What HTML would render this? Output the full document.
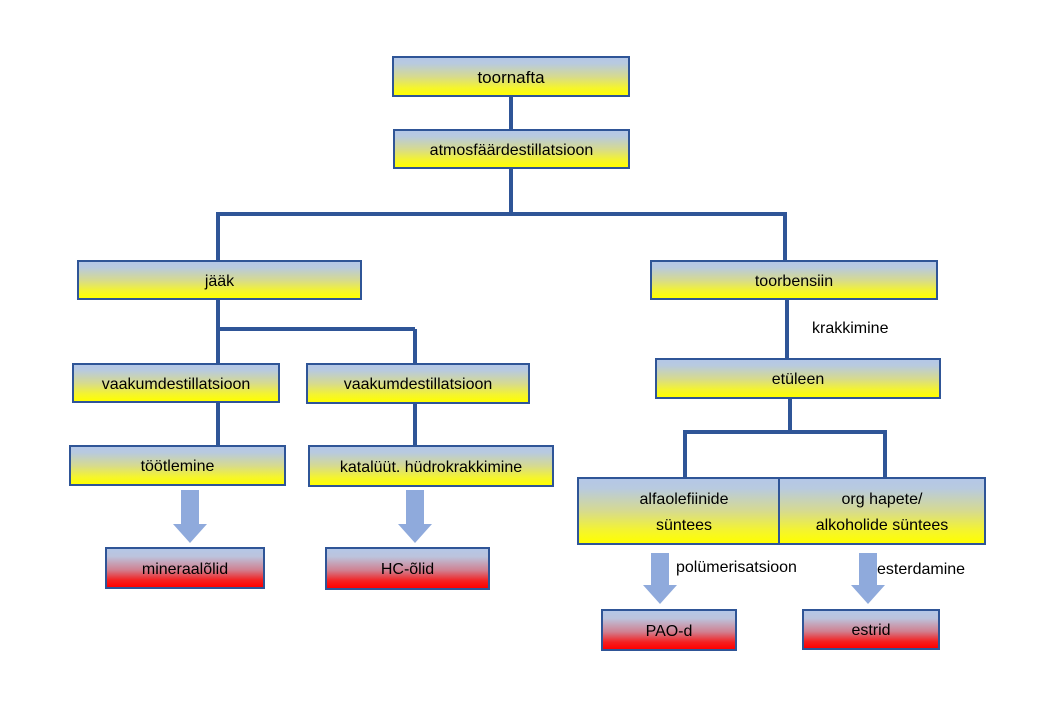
<!DOCTYPE html>
<html><head><meta charset="utf-8"><style>
body{margin:0;width:1057px;height:721px;background:#fff;position:relative;overflow:hidden;font-family:"Liberation Sans",sans-serif;}
.b{position:absolute;box-sizing:border-box;border:2px solid #2f5597;display:flex;align-items:center;justify-content:center;text-align:center;font-size:16px;color:#000;line-height:26px;padding-top:3px;
background:linear-gradient(to bottom,#b4c7e7 0%,#b8cadf 15%,#d6da90 50%,#f4f430 80%,#ffff00 100%);}
.r{background:linear-gradient(to bottom,#b4c7e7 0%,#bcc3dc 20%,#d08090 55%,#f42020 82%,#ff0000 100%);}
.t{position:absolute;font-size:16px;color:#000;}
</style></head><body>
<svg width="1057" height="721" style="position:absolute;left:0;top:0">
<g stroke="#2f5597" stroke-width="4" fill="none">
<line x1="511" y1="97" x2="511" y2="129"/>
<line x1="511" y1="169" x2="511" y2="214"/>
<line x1="216" y1="214" x2="787" y2="214"/>
<line x1="218" y1="214" x2="218" y2="260"/>
<line x1="785" y1="214" x2="785" y2="260"/>
<line x1="218" y1="300" x2="218" y2="445"/>
<line x1="218" y1="329" x2="415" y2="329"/>
<line x1="415" y1="329" x2="415" y2="363"/>
<line x1="415" y1="404" x2="415" y2="445"/>
<line x1="787" y1="300" x2="787" y2="358"/>
<line x1="790" y1="399" x2="790" y2="432"/>
<line x1="683" y1="432" x2="887" y2="432"/>
<line x1="685" y1="432" x2="685" y2="477"/>
<line x1="885" y1="432" x2="885" y2="477"/>
</g>
<g fill="#8faadc">
<polygon points="181,490 199,490 199,524 207,524 190,543 173,524 181,524"/>
<polygon points="406,490 424,490 424,524 432,524 415,543 398,524 406,524"/>
<polygon points="651,553 669,553 669,585 677,585 660,604 643,585 651,585"/>
<polygon points="859,553 877,553 877,585 885,585 868,604 851,585 859,585"/>
</g>
</svg>
<div class="b" style="left:392px;top:56px;width:238px;height:41px;font-size:17px">toornafta</div>
<div class="b" style="left:393px;top:129px;width:237px;height:40px">atmosfäärdestillatsioon</div>
<div class="b" style="left:77px;top:260px;width:285px;height:40px">jääk</div>
<div class="b" style="left:650px;top:260px;width:288px;height:40px">toorbensiin</div>
<div class="b" style="left:72px;top:363px;width:208px;height:40px">vaakumdestillatsioon</div>
<div class="b" style="left:306px;top:363px;width:224px;height:41px">vaakumdestillatsioon</div>
<div class="b" style="left:69px;top:445px;width:217px;height:41px">töötlemine</div>
<div class="b" style="left:308px;top:445px;width:246px;height:42px">katalüüt. hüdrokrakkimine</div>
<div class="b r" style="left:105px;top:547px;width:160px;height:42px">mineraalõlid</div>
<div class="b r" style="left:325px;top:547px;width:165px;height:43px">HC-õlid</div>
<div class="b" style="left:655px;top:358px;width:286px;height:41px">etüleen</div>
<div class="b" style="left:577px;top:477px;width:214px;height:68px">alfaolefiinide<br>süntees</div>
<div class="b" style="left:778px;top:477px;width:208px;height:68px">org hapete/<br>alkoholide süntees</div>
<div class="b r" style="left:601px;top:609px;width:136px;height:42px">PAO-d</div>
<div class="b r" style="left:802px;top:609px;width:138px;height:41px">estrid</div>
<div class="t" style="left:812px;top:320px">krakkimine</div>
<div class="t" style="left:676px;top:559px">polümerisatsioon</div>
<div class="t" style="left:877px;top:561px">esterdamine</div>
</body></html>
